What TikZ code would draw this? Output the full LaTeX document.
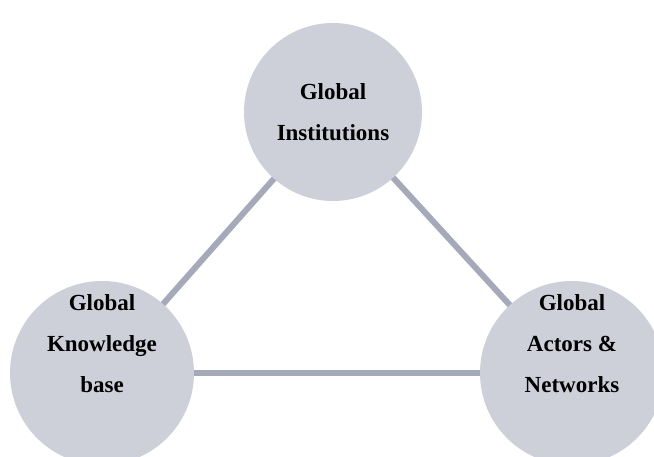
\documentclass[tikz,border=0pt]{standalone}
\usepackage{fontspec}
\setmainfont{Liberation Serif}
\usepackage{tikz}
\usetikzlibrary{backgrounds}
\definecolor{hubG}{RGB}{205,207,217}
\definecolor{linkG}{RGB}{166,169,186}
\newcommand\lift[2]{\raisebox{#1}[\height][\depth]{\begin{tabular}{@{}c@{}}#2\end{tabular}}}

\begin{document}
\begin{tikzpicture}[x=1pt, y=1pt,
    hub/.style={circle, fill=hubG, minimum size=178pt, inner sep=0pt,
      font=\fontsize{23}{41}\selectfont\bfseries},
    link/.style={draw=linkG, line width=6pt}]
    \useasboundingbox (0,0) rectangle (654,457);
    \node[hub](inst) at (333,345){\lift{0pt}{Global\\Institutions}};
    \node[hub, minimum size=184pt](know) at (102,84){\lift{30pt}{Global\\Knowledge\\base}};
    \node[hub, minimum size=184pt](act) at (572,84){\lift{30pt}{Global\\Actors \&\\Networks}};
    \begin{scope}[on background layer]
      \draw[link](know.center)--(inst.center);
      \draw[link](inst.center)--(act.center);
      \draw[link](know.center)--(act.center);
    \end{scope}
  \end{tikzpicture}
\end{document}
